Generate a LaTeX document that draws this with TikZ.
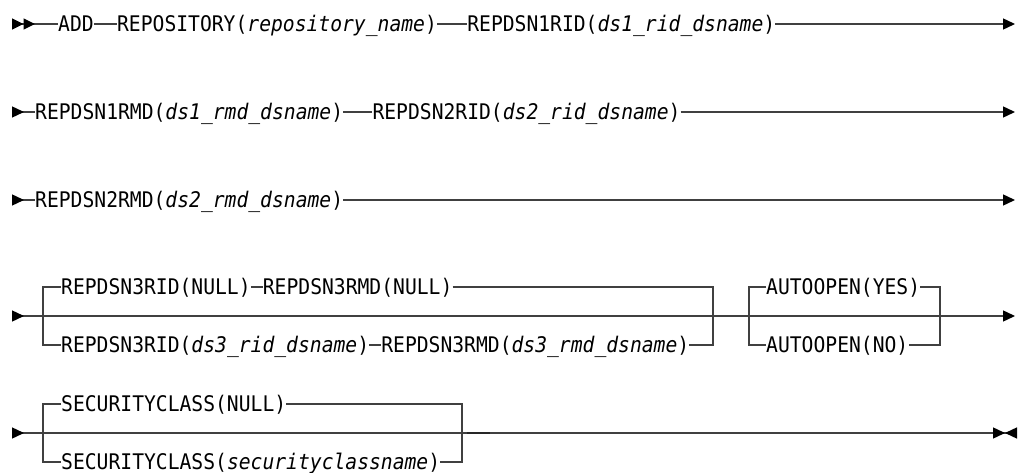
\documentclass[tikz,border=0pt]{standalone}
\usepackage{fontspec}
\newfontfamily\railfont[FakeStretch=0.915]{DejaVu Sans Mono}
\usetikzlibrary{arrows.meta,positioning}

\begin{document}
\begin{tikzpicture}[x=1pt,y=-1pt,font=\railfont\fontsize{21.5}{26}\selectfont,
   node distance=24pt,
   kw/.style={inner sep=0pt,text height=15.7pt,text depth=0pt,anchor=west},
   rail/.style={line width=1.4pt,black!75},
   railgo/.style={rail,-{Triangle[length=12pt,width=11pt,color=black]}},
   railin/.style={rail,{Triangle[reversed,length=12pt,width=11pt,color=black]}-},
   railbegin/.style={rail,{Triangle[reversed,length=11.5pt,width=11pt,color=black]%
       Triangle[reversed,length=11.5pt,width=11pt,color=black]}-},
   railthru/.style={rail,{Triangle[reversed,length=12pt,width=11pt,color=black]}-%
       {Triangle[length=12pt,width=11pt,color=black]}},
   railend/.style={rail,{Triangle[reversed,length=12pt,width=11pt,color=black]}-%
       {Triangle[length=12pt,width=11pt,color=black]Triangle[reversed,length=12pt,width=11pt,color=black]}}]
  \useasboundingbox (0,0) rectangle (1023,473);
  % row 1
  \coordinate (s1) at (12,24);
  \node[kw] (add) at (58,24) {ADD};
  \node[kw,right=23pt of add] (repo) {REPOSITORY(\textit{repository\_name})};
  \node[kw,right=30pt of repo] (rid1) {REPDSN1RID(\textit{ds1\_rid\_dsname})};
  \coordinate (e1) at (1015,24);
  \draw[railbegin] (s1) -- (add);
  \draw[rail] (add) -- (repo);
  \draw[rail] (repo) -- (rid1);
  \draw[railgo] (rid1) -- (e1);
  % row 2
  \coordinate (s2) at (12,112);
  \node[kw] (rmd1) at (35,112) {REPDSN1RMD(\textit{ds1\_rmd\_dsname})};
  \node[kw,right=29pt of rmd1] (rid2) {REPDSN2RID(\textit{ds2\_rid\_dsname})};
  \coordinate (e2) at (1015,112);
  \draw[railin] (s2) -- (rmd1);
  \draw[rail] (rmd1) -- (rid2);
  \draw[railgo] (rid2) -- (e2);
  % row 3
  \coordinate (s3) at (12,200);
  \node[kw] (rmd2) at (35,200) {REPDSN2RMD(\textit{ds2\_rmd\_dsname})};
  \coordinate (e3) at (1015,200);
  \draw[railin] (s3) -- (rmd2);
  \draw[railgo] (rmd2) -- (e3);
  % row 4: repdsn3 choice, autoopen choice
  \coordinate (s4) at (12,316);
  \coordinate (e4) at (1015,316);
  \draw[railthru] (s4) -- (e4);
  \coordinate (b4l) at (43,316);
  \coordinate (b4r) at (713,316);
  \node[kw] (rid3n) at (61,287) {REPDSN3RID(NULL)};
  \node[kw,right=11.8pt of rid3n] (rmd3n) {REPDSN3RMD(NULL)};
  \node[kw] (rid3d) at (61,345) {REPDSN3RID(\textit{ds3\_rid\_dsname})};
  \node[kw,right=11.8pt of rid3d] (rmd3d) {REPDSN3RMD(\textit{ds3\_rmd\_dsname})};
  \draw[rail] (rid3n.west) -| (b4l) |- (rid3d.west);
  \draw[rail] (rid3n) -- (rmd3n);
  \draw[rail] (rid3d) -- (rmd3d);
  \draw[rail] (rmd3n.east) -| (b4r) |- (rmd3d.east);
  \coordinate (b5l) at (749,316);
  \coordinate (b5r) at (940,316);
  \node[kw] (aoyes) at (766,287) {AUTOOPEN(YES)};
  \node[kw] (aono) at (766,345) {AUTOOPEN(NO)};
  \draw[rail] (aoyes.west) -| (b5l) |- (aono.west);
  \draw[rail] (aoyes.east) -| (b5r) |- (aono.east);
  % row 5: securityclass choice
  \coordinate (s5) at (12,433);
  \coordinate (e5) at (1017,433);
  \draw[railend] (s5) -- (e5);
  \coordinate (b6l) at (43,433);
  \coordinate (b6r) at (462,433);
  \node[kw] (secn) at (61,404) {SECURITYCLASS(NULL)};
  \node[kw] (secd) at (61,462) {SECURITYCLASS(\textit{securityclassname})};
  \draw[rail] (secn.west) -| (b6l) |- (secd.west);
  \draw[rail] (secn.east) -| (b6r) |- (secd.east);
  \draw[rail,line width=2.2pt,black!85] ([xshift=5pt]b6r) -- ([xshift=28pt]b6r);
\end{tikzpicture}
\end{document}
